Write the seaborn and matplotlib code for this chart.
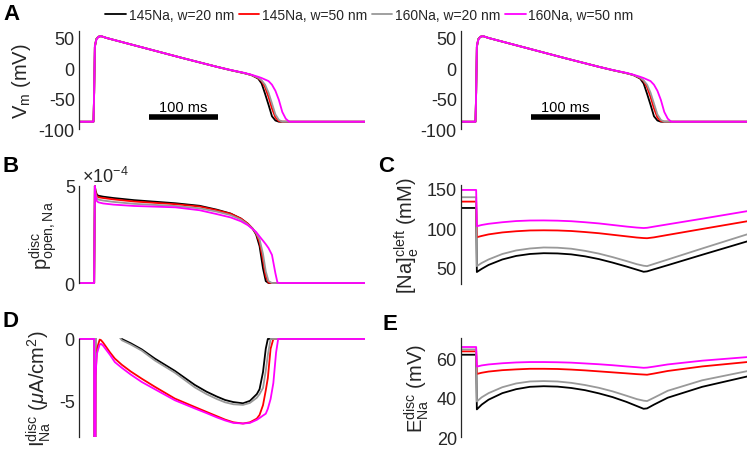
import numpy as np
import pandas as pd
import matplotlib
matplotlib.use("Agg")
import matplotlib.pyplot as plt
import seaborn as sns
from matplotlib.lines import Line2D

# ---------------- data ----------------
series = ["145Na, w=20 nm", "145Na, w=50 nm", "160Na, w=20 nm", "160Na, w=50 nm"]
colors = ["#000000", "#ff0000", "#999999", "#ff00ff"]

# Panel A: membrane potential (mV)
t_vm = [0, 21, 22, 23, 25, 28, 32, 40, 60, 100, 150, 200, 220, 240, 250, 260, 265,
        270, 275, 280, 285, 290, 295, 300, 305, 310, 415]
vm_145_20 = [-88, -88, -40, 35, 48, 52, 53, 50, 44, 32, 17, 2.5, -3, -8, -11, -17, -25,
             -42, -60, -79, -86, -88, -88, -88, -88, -88, -88]
vm_145_50 = [-88, -88, -40, 35, 48, 52, 53, 50, 44, 32, 17, 2.5, -3, -8, -11, -16, -21,
             -31, -47, -66, -81, -87, -88, -88, -88, -88, -88]
vm_160_20 = [-88, -88, -40, 35, 48, 52, 53, 50, 44, 32, 17, 2.5, -3, -8, -11, -15.5, -20,
             -27, -40, -58, -76, -85, -88, -88, -88, -88, -88]
vm_160_50 = [-88, -88, -40, 38, 46, 52, 53, 50, 44, 32, 17, 2.5, -2.8, -7.5, -10.5, -14, -16,
             -18.5, -21, -27, -37, -52, -72, -83, -88, -88, -88]

# Panel B: disc Na channel open probability (x1e-4)
t_po = [0, 21, 22, 23, 24, 26, 28, 35, 50, 80, 140, 175, 200, 220, 235, 245, 252, 257,
        262, 267, 271, 275, 280, 285, 288, 292, 415]
po_145_20 = [0, 0, 0, 5.0, 4.75, 4.55, 4.5, 4.45, 4.38, 4.27, 4.11, 3.98, 3.78, 3.58, 3.32,
             3.05, 2.8, 2.5, 1.9, 0.75, 0.1, 0, 0, 0, 0, 0, 0]
po_145_50 = [0, 0, 0, 5.0, 4.7, 4.48, 4.42, 4.38, 4.31, 4.2, 4.06, 3.94, 3.75, 3.57, 3.32,
             3.06, 2.8, 2.55, 2.1, 1.2, 0.35, 0.02, 0, 0, 0, 0, 0]
po_160_20 = [0, 0, 0, 5.0, 4.6, 4.36, 4.3, 4.25, 4.18, 4.08, 3.97, 3.85, 3.68, 3.5, 3.27,
             3.02, 2.8, 2.58, 2.25, 1.5, 0.6, 0.1, 0, 0, 0, 0, 0]
po_160_50 = [0, 0, 0, 5.0, 4.45, 4.22, 4.16, 4.1, 4.04, 3.97, 3.9, 3.75, 3.55, 3.38, 3.18,
             2.98, 2.78, 2.63, 2.4, 2.18, 2.0, 1.8, 1.45, 0.5, 0.02, 0, 0]

# Panels C and E: cleft [Na] (mM) and disc E_Na (mV)
t_ce = [0, 22, 23, 30, 40, 60, 80, 100, 120, 140, 160, 180, 200, 220, 240, 255, 265,
        270, 280, 300, 350, 415]
na_145_20 = [125.7, 125.7, 44, 48, 53, 60, 64.5, 67, 68, 67.7, 66.5, 64, 60.5, 56, 51, 47,
             44.3, 44.8, 47.5, 52.7, 66, 83]
na_145_50 = [133.8, 133.8, 88.4, 90, 92, 94.5, 96, 97, 97.2, 97, 96.3, 95, 93.5, 91.5, 89.5,
             88, 87.3, 87.1, 88.2, 91.3, 98.9, 108.7]
na_160_20 = [139.4, 139.4, 51.5, 55.5, 60, 67, 71.5, 74, 75.3, 75, 73.7, 71, 67.5, 63, 58,
             54, 52, 51.5, 54.3, 59.9, 74, 92]
na_160_50 = [148.7, 148.7, 102.4, 104, 105.5, 107.5, 109, 109.7, 109.8, 109.5, 108.8, 107.5,
             106, 104, 102, 100.7, 100.1, 100.4, 101.9, 104.8, 112, 121.6]

ena_145_20 = [61.7, 61.7, 34.1, 36.5, 39, 42.3, 44.3, 45.5, 45.8, 45.6, 44.9, 43.8, 42.2,
              40.3, 37.9, 35.8, 34.4, 34.6, 36.5, 40, 45.5, 50.7]
ena_145_50 = [63.4, 63.4, 52.0, 52.6, 53.2, 53.9, 54.3, 54.6, 54.6, 54.5, 54.2, 53.8, 53.3,
              52.8, 52.3, 51.9, 51.7, 51.6, 52.2, 53.5, 55.8, 58.0]
ena_160_20 = [64.4, 64.4, 38.1, 40.2, 42.3, 45.3, 47.2, 48.2, 48.4, 48.2, 47.5, 46.4, 45,
              43.2, 41, 39.3, 38.5, 38.3, 40, 43.5, 48.8, 53.4]
ena_160_50 = [65.6, 65.6, 55.7, 56.3, 56.8, 57.4, 57.8, 58, 58, 57.9, 57.7, 57.3, 56.9,
              56.4, 55.8, 55.4, 55.1, 55.2, 55.7, 56.8, 58.7, 60.5]

# Panel D: disc Na current (uA/cm^2)
t_ina = [0, 22, 23, 24, 26, 30, 32, 35, 45, 52, 62, 75, 91, 110, 139, 168, 185, 200, 212,
         224, 238, 248, 258, 262, 267, 271, 274, 278, 282, 286, 289, 295, 415]
ina_145_20 = [0, 0, -30, 3, 3, 2.5, 2.3, 2, 1.3, 0.8, 0, -0.35, -0.85, -1.6, -2.6, -3.75,
              -4.3, -4.7, -4.98, -5.15, -5.25, -5.05, -4.5, -4.1, -2.7, -0.8, 0, 0, 0, 0,
              0, 0, 0]
ina_145_50 = [0, 0, -30, -3, -0.8, -0.05, -0.1, -0.3, -1.1, -1.6, -2.1, -2.65, -3.24, -3.9,
              -4.86, -5.55, -5.95, -6.3, -6.58, -6.8, -6.9, -6.8, -6.5, -6.2, -5.4, -4.2,
              -3.2, -0.8, 0, 0, 0, 0, 0]
ina_160_20 = [0, 0, -30, 3, 3, 2.4, 2.2, 1.9, 1.2, 0.7, -0.1, -0.45, -0.95, -1.75, -2.75,
              -3.95, -4.5, -4.9, -5.17, -5.33, -5.38, -5.22, -4.8, -4.5, -4.0, -2.6, -1.3,
              0, 0, 0, 0, 0, 0]
ina_160_50 = [0, 0, -30, -3, -1.2, -0.45, -0.4, -0.55, -1.3, -1.89, -2.35, -2.9, -3.51,
              -4.1, -5.0, -5.67, -6.05, -6.4, -6.65, -6.85, -6.9, -6.85, -6.6, -6.45, -6.25,
              -6.1, -5.7, -4.9, -3.6, -1.1, 0, 0, 0]

# scale bar (ms) and its height (mV)
scale_bar_ms = [101.4, 201.4]
scale_bar_mv = -80

# ---------------- style ----------------
sns.set_style("white")
plt.rcParams["font.family"] = ["Liberation Sans", "DejaVu Sans"]
plt.rcParams["mathtext.fontset"] = "custom"
plt.rcParams["mathtext.rm"] = "Liberation Sans"
plt.rcParams["mathtext.it"] = "Liberation Sans:italic"
plt.rcParams["mathtext.bf"] = "Liberation Sans:bold"
plt.rcParams["axes.unicode_minus"] = False
AX_COL = "#262626"

W, H = 750, 452
fig = plt.figure(figsize=(W / 100, H / 100), dpi=100)


def px_axes(left, top, right, bottom):
    return fig.add_axes([left / W, 1 - bottom / H, (right - left) / W, (bottom - top) / H])


def long_df(t, vals):
    return pd.concat([pd.DataFrame({"t": t, "y": v, "series": s})
                      for s, v in zip(series, vals)], ignore_index=True)


def draw(ax, t, vals):
    sns.lineplot(data=long_df(t, vals), x="t", y="y", hue="series", hue_order=series,
                 palette=colors, estimator=None, sort=False, legend=False, ax=ax, lw=1.3)


def style(ax, ylim, ticks, bounds):
    ax.set_xlim(0, 415)
    ax.set_ylim(*ylim)
    ax.set_xticks([])
    ax.set_xlabel("")
    for s in ["top", "right", "bottom"]:
        ax.spines[s].set_visible(False)
    ax.spines["left"].set_bounds(*bounds)
    ax.spines["left"].set_color(AX_COL)
    ax.spines["left"].set_linewidth(0.9)
    ax.set_yticks(ticks)
    ax.tick_params(axis="y", direction="in", length=3, width=0.9, labelsize=13,
                   colors=AX_COL, pad=3)
    ax.patch.set_visible(False)


LAB = 14.5

# A left and right
for left in (79, 461):
    ax = px_axes(left, 32, left + 286, 130)
    draw(ax, t_vm, [vm_145_20, vm_145_50, vm_160_20, vm_160_50])
    style(ax, (-100, 61.5), [-100, -50, 0, 50], (-100, 61.5))
    ax.plot(scale_bar_ms, [scale_bar_mv, scale_bar_mv], color="k", lw=4,
            solid_capstyle="butt")
    ax.text(np.mean(scale_bar_ms), scale_bar_mv + 9, "100 ms", ha="center",
            va="baseline", fontsize=10.5, color="k")
    if left == 79:
        ax.set_ylabel(r"$\mathrm{V_m}$ (mV)", fontsize=LAB, color=AX_COL)
    else:
        ax.set_ylabel("")

# B
ax = px_axes(79, 186.2, 365, 284.8)
draw(ax, t_po, [po_145_20, po_145_50, po_160_20, po_160_50])
style(ax, (-0.04, 5.04), [0, 5], (0, 5))
ax.set_ylabel(r"$\mathrm{p_{open,Na}^{disc}}$", fontsize=LAB, color=AX_COL)
ax.text(0.01, 1.035, r"$\times$10$^{-4}$", transform=ax.transAxes, fontsize=13,
        color=AX_COL, ha="left", va="baseline")

# C
ax = px_axes(461, 186, 747, 285)
draw(ax, t_ce, [na_145_20, na_145_50, na_160_20, na_160_50])
style(ax, (28.7, 155), [50, 100, 150], (28.7, 155))
ax.set_ylabel(r"$\mathrm{[Na]_e^{cleft}}$ (mM)", fontsize=LAB, color=AX_COL)

# D
ax = px_axes(79, 339.1, 365, 438)
draw(ax, t_ina, [ina_145_20, ina_145_50, ina_160_20, ina_160_50])
style(ax, (-8, 0.07), [-5, 0], (-8, 0))
ax.set_ylabel(r"$\mathrm{I_{Na}^{disc}}$ ($\mu$A/cm$^2$)", fontsize=LAB, color=AX_COL)

# E
ax = px_axes(461, 339.3, 747, 438.3)
draw(ax, t_ce, [ena_145_20, ena_145_50, ena_160_20, ena_160_50])
style(ax, (20, 70), [20, 40, 60], (20, 70))
ax.set_ylabel(r"$\mathrm{E_{Na}^{disc}}$ (mV)", fontsize=LAB, color=AX_COL)

# panel letters
for letter, x, y in [("A", 3, 20), ("B", 3, 172), ("C", 378, 172), ("D", 2, 327),
                     ("E", 382, 330)]:
    fig.text(x / W, 1 - y / H, letter, fontsize=16, fontweight="bold", ha="left",
             va="baseline", color="k")

# legend
handles = [Line2D([], [], color=c, lw=1.3) for c in colors]
fig.legend(handles, series, loc="center", bbox_to_anchor=(0.4927, 1 - 15.5 / H),
           ncol=4, frameon=False, fontsize=10, handlelength=1.5, handletextpad=0.2,
           columnspacing=0.3, borderpad=0, borderaxespad=0)

fig.savefig("out.png", dpi=100)
